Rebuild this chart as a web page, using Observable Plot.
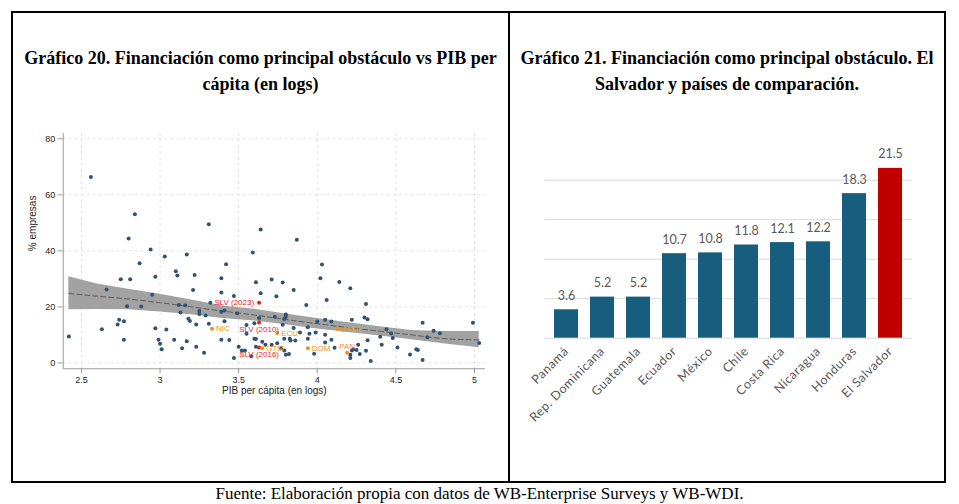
<!DOCTYPE html>
<html><head><meta charset="utf-8">
<script src="https://cdn.jsdelivr.net/npm/d3@7"></script>
<script src="https://cdn.jsdelivr.net/npm/@observablehq/plot@0.6"></script>
<style>
body{margin:0;background:#fff;}
#root{position:relative;width:959px;height:504px;overflow:hidden;background:#fff;}
.box{position:absolute;left:11px;top:11px;width:931px;height:468px;border:2px solid #000;}
.sep{position:absolute;left:508px;top:11px;width:2px;height:472px;background:#000;}
.title{position:absolute;font-family:"Liberation Serif","Times New Roman",serif;font-weight:bold;font-size:18px;line-height:26px;text-align:center;color:#000;}
#t1{left:13px;width:495px;top:45px;}
#t2{left:510px;width:434px;top:45px;}
#cap{position:absolute;left:0;width:959px;top:484px;text-align:center;font-family:"Liberation Serif","Times New Roman",serif;font-size:17px;line-height:20px;color:#000;}
#p1{position:absolute;left:20px;top:120px;}
#p2{position:absolute;left:511px;top:130px;}
#p2 g[aria-label="x-axis tick label"] text{letter-spacing:0.5px;}
</style>
</head>
<body>
<div id="root">
  <div class="box"></div>
  <div class="sep"></div>
  <div class="title" id="t1">Gráfico 20. Financiación como principal obstáculo vs PIB per<br>cápita (en logs)</div>
  <div class="title" id="t2">Gráfico 21. Financiación como principal obstáculo. El<br>Salvador y países de comparación.</div>
  <div id="p1"></div>
  <div id="p2"></div>
  <div id="cap">Fuente: Elaboración propia con datos de WB-Enterprise Surveys y WB-WDI.</div>
</div>
<script>
// ---- Gráfico 20: scatter data ----
const pointX = [2.42,2.56,2.63,2.66,2.73,2.74,2.75,2.77,2.77,2.79,2.80,2.81,2.84,2.87,2.88,2.94,2.95,2.97,2.97,2.99,3.00,3.01,3.03,3.04,3.09,3.10,3.11,3.12,3.13,3.14,3.16,3.17,3.17,3.18,3.19,3.21,3.22,3.23,3.23,3.25,3.25,3.28,3.29,3.31,3.31,3.32,3.39,3.39,3.39,3.39,3.41,3.42,3.44,3.47,3.47,3.49,3.50,3.52,3.55,3.55,3.58,3.59,3.61,3.61,3.60,3.61,3.63,3.64,3.64,3.65,3.67,3.71,3.71,3.73,3.74,3.78,3.78,3.79,3.80,3.80,3.79,3.79,3.80,3.82,3.77,3.745,3.825,3.83,3.85,3.85,3.86,3.87,3.89,3.93,3.94,3.94,3.95,3.98,3.99,4.00,4.02,4.03,4.05,4.05,4.05,4.06,4.09,4.09,4.11,4.14,4.21,4.22,4.21,4.21,4.22,4.23,4.25,4.26,4.27,4.31,4.30,4.32,4.32,4.31,4.34,4.40,4.41,4.44,4.47,4.48,4.51,4.59,4.63,4.64,4.67,4.67,4.70,4.74,4.78,4.99,5.03,3.54,3.60,3.41];
const pointY = [9.4,66.4,12.0,26.2,13.7,15.4,29.9,14.9,8.3,20.2,44.4,29.9,53.1,35.6,20.1,40.5,24.3,12.4,30.8,8.3,6.8,4.9,38.0,11.9,8.3,32.7,31.2,20.7,18.0,5.2,20.6,38.7,7.7,15.8,15.0,26.0,31.4,13.7,5.8,18.5,17.5,3.6,16.9,49.5,14.0,21.5,25.1,30.2,18.3,8.3,14.9,35.2,8.2,23.9,1.8,17.7,5.8,4.4,10.4,13.5,2.4,39.4,28.8,8.5,14.2,5.8,16.0,24.9,47.6,7.6,6.5,29.8,6.5,16.5,23.8,28.7,13.6,15.7,16.5,17.3,8.6,4.4,2.9,3.2,5.2,7.0,8.6,8.0,12.5,26.0,8.0,44.0,10.9,20.7,12.7,8.6,10.4,3.3,10.9,14.8,30.2,35.1,15.4,10.1,7.3,22.5,14.8,8.3,5.4,28.9,26.7,15.4,2.9,1.8,4.4,4.9,4.6,6.5,3.2,21.0,16.2,15.6,8.1,4.3,0.7,9.3,6.5,12.0,10.5,8.9,5.5,3.0,4.9,4.6,14.3,1.0,9.2,11.5,10.6,14.3,7.1,4.4,8.6,18.7];

const labelNames = ["SLV (2023)","SLV (2010)","SLV (2016)","NIC","GTM","ECU","DOM","CRI","CHL","PAN"];
const labelX = [3.63,3.63,3.63,3.33,3.65,3.745,3.94,4.13,4.16,4.19];
const labelY = [21.5,14.4,5.5,12.2,5.2,10.7,5.2,12.1,11.8,3.6];

const fitX  = [2.42,2.6,2.8,3.0,3.2,3.4,3.6,3.8,4.0,4.2,4.4,4.6,4.8,5.03];
const fitY  = [24.8,23.8,22.8,21.5,20.0,18.5,17.1,15.5,14.0,12.6,11.3,10.0,8.7,8.2];
const fitLo = [19.0,19.1,19.0,18.2,17.2,15.9,15.0,13.6,12.1,10.9,9.6,8.3,6.8,5.4];
const fitHi = [30.8,28.2,26.3,24.5,22.5,20.3,19.2,17.5,15.9,14.3,12.9,11.6,11.2,11.2];

const xTicks = [2.5,3,3.5,4,4.5,5];
const yTicks = [0,20,40,60,80];

// ---- Gráfico 21: bar data ----
const countries = ["Panamá","Rep. Dominicana","Guatemala","Ecuador","México","Chile","Costa Rica","Nicaragua","Honduras","El Salvador"];
const shares = [3.6,5.2,5.2,10.7,10.8,11.8,12.1,12.2,18.3,21.5];
const barGrid = [5,10,15,20];

// build tables
const points = pointX.map((x,i)=>({x, y:pointY[i]}));
const labeled = labelNames.map((n,i)=>({n, x:labelX[i], y:labelY[i]}));
const fit = fitX.map((x,i)=>({x, y:fitY[i], lo:fitLo[i], hi:fitHi[i]}));
const bars = countries.map((c,i)=>({c, v:shares[i]}));

const xDom = [2.384,5.07], yDom = [-2.1,81.9];
const isSLV = d => d.n.startsWith("SLV");

const p1 = Plot.plot({
  width:480, height:290,
  marginLeft:42.7, marginRight:15, marginTop:13, marginBottom:41.7,
  x:{domain:xDom}, y:{domain:yDom},
  style:{fontFamily:"'Liberation Sans', Arial, sans-serif", fontSize:"9px", color:"#222", background:"transparent"},
  marks:[
    Plot.ruleY(yTicks,{y:d=>d, stroke:"#e3e3e3", strokeDasharray:"3,3"}),
    Plot.ruleX(xTicks,{x:d=>d, stroke:"#e3e3e3", strokeDasharray:"3,3"}),
    Plot.areaY(fit,{x:"x", y1:"lo", y2:"hi", fill:"#a2a2a2"}),
    Plot.line(fit,{x:"x", y:"y", stroke:"#5a5a5a", strokeWidth:1, strokeDasharray:"5,3", curve:"monotone-x"}),
    Plot.dot(points,{x:"x", y:"y", r:2, fill:"#2f5373"}),
    Plot.dot(labeled,{x:"x", y:"y", r:2, fill:d=>isSLV(d)?"#ee1c1c":"#f5901e"}),
    Plot.text(labeled.filter(d=>d.n==="SLV (2023)"),{x:"x", y:"y", text:"n", fill:"#ee1c1c", fontSize:8, textAnchor:"end", dx:-5}),
    Plot.text(labeled.filter(d=>d.n==="SLV (2010)"||d.n==="SLV (2016)"),{x:"x", y:"y", text:"n", fill:"#ee1c1c", fontSize:8, dy:7}),
    Plot.text(labeled.filter(d=>d.n==="PAN"),{x:"x", y:"y", text:"n", fill:"#f5901e", fontSize:8, dy:-6}),
    Plot.text(labeled.filter(d=>!isSLV(d)&&d.n!=="PAN"),{x:"x", y:"y", text:"n", fill:"#f5901e", fontSize:8, textAnchor:"start", dx:4}),
    Plot.ruleX([xDom[0]],{stroke:"#9a9a9a"}),
    Plot.ruleY([yDom[0]],{stroke:"#9a9a9a"}),
    Plot.axisY({ticks:yTicks, tickSize:5, tickPadding:3, stroke:"#9a9a9a", fill:"#222", label:null, tickFormat:d=>String(d)}),
    Plot.axisX({ticks:xTicks, tickSize:5, tickPadding:3, stroke:"#9a9a9a", fill:"#222", label:null, tickFormat:d=>String(d)}),
    Plot.text(["% empresas"],{frameAnchor:"left", dx:-30, rotate:-90, fontSize:10, fill:"#222"}),
    Plot.text(["PIB per cápita (en logs)"],{frameAnchor:"bottom", dy:25, fontSize:10, fill:"#222"})
  ]
});
document.getElementById("p1").appendChild(p1);

const p2 = Plot.plot({
  width:430, height:330,
  marginLeft:33.3, marginRight:29.3, marginTop:10.2, marginBottom:122.3,
  x:{domain:countries, paddingInner:0.33, paddingOuter:0.165},
  y:{domain:[0,25]},
  style:{fontFamily:"Lato, 'Open Sans', sans-serif", fontSize:"12px", color:"#595959", background:"transparent"},
  marks:[
    Plot.ruleY(barGrid,{y:d=>d, stroke:"#d9d9d9"}),
    Plot.ruleY([0],{stroke:"#d9d9d9"}),
    Plot.barY(bars.filter(d=>d.c!=="El Salvador"),{x:"c", y:"v", fill:"#175d7e"}),
    Plot.barY(bars.filter(d=>d.c==="El Salvador"),{x:"c", y:"v", fill:"#c00000"}),
    Plot.text(bars,{x:"c", y:"v", text:d=>d.v.toFixed(1), dy:-10, lineAnchor:"bottom", fill:"#595959", fontSize:12.5}),
    Plot.axisX({tickSize:0, tickRotate:-45, tickPadding:11, label:null, fill:"#595959", fontSize:12.5}),
    Plot.axisY({ticks:[], label:null, tickSize:0})
  ]
});
document.getElementById("p2").appendChild(p2);
</script>
</body></html>
